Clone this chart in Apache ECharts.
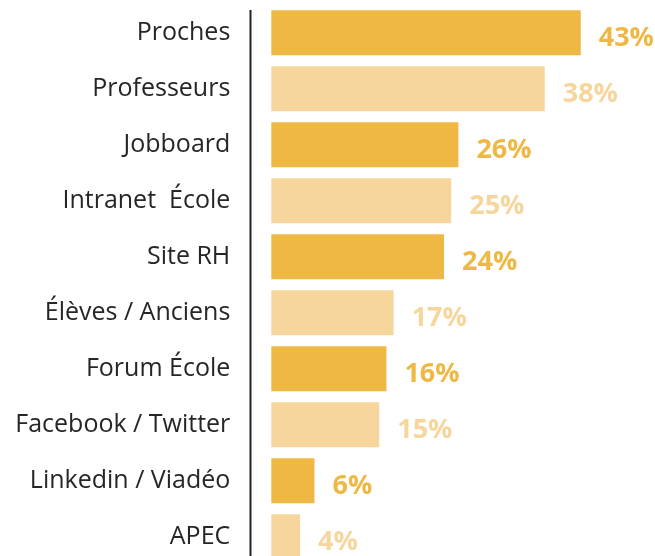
<!DOCTYPE html>
<html>
<head>
<meta charset="utf-8">
<style>
  html, body { margin: 0; padding: 0; background: #ffffff; overflow: hidden; }
  #chart { width: 655px; height: 566px; }
</style>
<script src="https://cdn.jsdelivr.net/npm/echarts@6/dist/echarts.min.js"></script>
</head>
<body>
<div id="chart"></div>
<script>
// Sources used, top to bottom
const categories = [
  'Proches', 'Professeurs', 'Jobboard', 'Intranet  École', 'Site RH',
  'Élèves / Anciens', 'Forum École', 'Facebook / Twitter', 'Linkedin / Viadéo', 'APEC'
];
// Share of respondents, in percent
const values = [43, 38, 26, 25, 24, 17, 16, 15, 6, 4];

const DARK = '#EFB845';
const LIGHT = '#F6D69C';

const chart = echarts.init(document.getElementById('chart'), null, { renderer: 'canvas' });

chart.setOption({
  animation: false,
  backgroundColor: '#ffffff',
  // the last row runs past the bottom of the visible page
  grid: { left: 271.3, top: 4.7, right: 23.9, bottom: 1.3, containLabel: false },
  xAxis: {
    type: 'value', min: 0, max: 50,
    show: false
  },
  yAxis: {
    type: 'category',
    data: categories,
    inverse: true,
    offset: 21,
    axisLine: { show: false },
    axisTick: { show: false },
    axisLabel: {
      margin: 20,
      color: '#262626',
      fontFamily: 'Open Sans',
      fontSize: 25
    }
  },
  series: [{
    type: 'bar',
    data: values.map((v, i) => ({
      value: v,
      itemStyle: { color: i % 2 === 0 ? DARK : LIGHT },
      label: { color: i % 2 === 0 ? DARK : LIGHT }
    })),
    barWidth: 45,
    label: {
      show: true,
      position: 'right',
      distance: 18,
      offset: [0, 6],
      formatter: '{c}%',
      fontFamily: 'Open Sans',
      fontWeight: 'bold',
      fontSize: 27
    }
  }],
  graphic: [{
    type: 'line',
    shape: { x1: 250.5, y1: 10, x2: 250.5, y2: 566 },
    style: { stroke: '#222222', lineWidth: 2 }
  }]
});
</script>
</body>
</html>
